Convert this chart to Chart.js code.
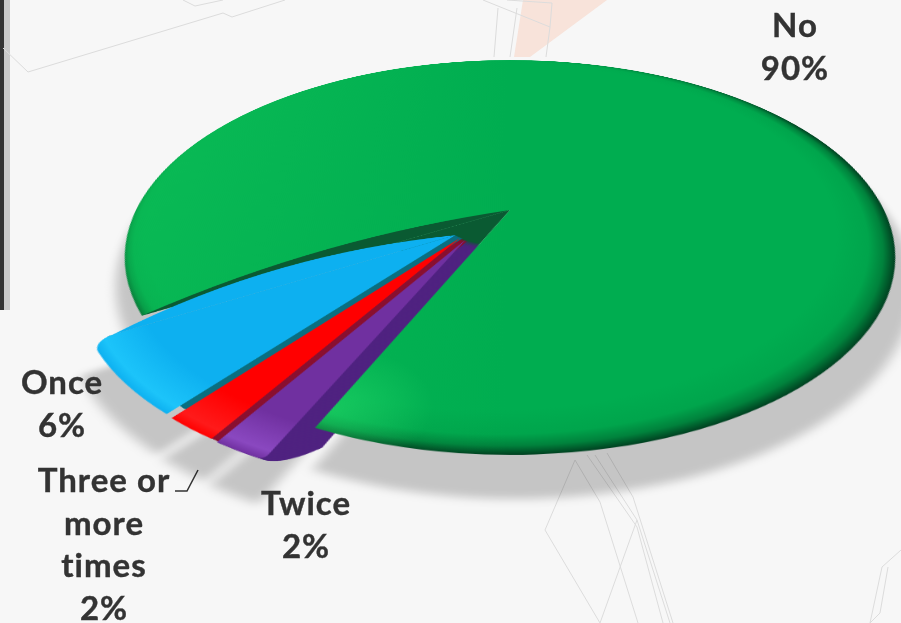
<!DOCTYPE html>
<html>
<head>
<meta charset="utf-8">
<script src="https://cdn.jsdelivr.net/npm/chart.js@4"></script>
<style>
html, body { margin: 0; padding: 0; width: 901px; height: 623px; overflow: hidden; background: #f7f7f7; }
#bg { position: absolute; left: 0; top: 0; }
#pie { position: absolute; left: 10px; top: -290px; width: 1000px; height: 1000px;
  transform-origin: 500px 500px;
  /* fake the tilted 3d pie with a perspective matrix on the canvas */
  transform: matrix3d(1,0,0,0, 0,0.4973,0,-0.000643, 0,0,1,0, 0,0,0,1); }
.lbl { position: absolute; transform: translateX(-50%); text-align: center; white-space: nowrap;
  font: bold 33px/42.7px Lato, sans-serif; letter-spacing: 1px; color: #333; -webkit-text-stroke: 0.4px #333; }
</style>
</head>
<body>
<svg id="bg" width="901" height="623">
  <polygon points="523,0 607,0 530,57 514,57" fill="#f8e3da"/>
  <rect x="0" y="0" width="4" height="310" fill="#333"/>
  <rect x="4" y="0" width="6" height="310" fill="#c9c9c9"/>
  <g fill="none" stroke="#dcdcdc" stroke-width="1">
    <polyline points="3,48 28,72 223,13 232,17 285,0"/>
    <polyline points="183,0 195,6 223,0"/>
    <polyline points="498,8 494,57"/>
    <polyline points="517,8 510,57"/>
    <polyline points="550,27 546,57"/>
    <polyline points="483,0 550,27"/>
    <polyline points="507,0 552,3 550,27"/>
    <polyline points="575,460 545,530 600,623 637,520"/>
    <polyline points="575,460 600,502 638,623"/>
    <polyline points="587,455 637,527 663,623"/>
    <polyline points="595,455 637,520 670,623"/>
    <polyline points="607,453 633,497 673,623"/>
    <polyline points="901,550 882,567 870,623"/>
    <polyline points="888,567 880,613 870,623"/>
  </g>
  <polyline points="175,491 187,491 198,470" fill="none" stroke="#333" stroke-width="1.5"/>
</svg>
<canvas id="pie" width="1000" height="1000"></canvas>
<div class="lbl" style="left:795px;top:3px">No<br>90%</div>
<div class="lbl" style="left:62px;top:360px">Once<br>6%</div>
<div class="lbl" style="left:104px;top:458px">Three or<br>more<br>times<br>2%</div>
<div class="lbl" style="left:306px;top:481px">Twice<br>2%</div>
<script>
const categories = ['No', 'Twice', 'Three or more times', 'Once'];
const shares = [90, 2, 2, 6];

const faceColors = ['#00ad50', '#7030a0', '#ff0000', '#0db0f0'];
const edgeColors = ['#00ad50', '#8a48c0', '#ff1a1a', '#1cc4fa'];
const wallColors = ['#0a5a32', '#4f2280', '#8a1030', '#0b6f80'];
const wallShift = [[0, 0], [30, 14], [7, 6], [7, 6]];
const wallTrim = [0, 0, 2, 14];
const wallCurve = [0, 30, 0, 0];
const slideX = [0, -43, -48, -53];
const slideY = [0, 58, 54, 49];
const corners = [0,
  { outerStart: 6, outerEnd: 0, innerStart: 0, innerEnd: 0 },
  { outerStart: 0, outerEnd: 0, innerStart: 0, innerEnd: 0 },
  { outerStart: 0, outerEnd: 18, innerStart: 0, innerEnd: 0 }];

const startDeg = 240;
const pieRadius = 374;
const sliceRadius = 352;

let greenPattern = null;

// big slice fill: dark rim on the near and right side only, lighter on the left
function greenFill(chart, cx, cy) {
  if (greenPattern) return greenPattern;
  var off = document.createElement('canvas');
  off.width = chart.width;
  off.height = chart.height;
  var c = off.getContext('2d');
  var g = c.createRadialGradient(cx - pieRadius * 0.05, cy - pieRadius * 0.06, pieRadius * 0.915, cx, cy, pieRadius);
  g.addColorStop(0, '#00ad50');
  g.addColorStop(0.55, '#00a54c');
  g.addColorStop(0.8, '#00823c');
  g.addColorStop(1, '#004020');
  c.fillStyle = g;
  c.fillRect(0, 0, off.width, off.height);
  var cover = c.createLinearGradient(cx - pieRadius * 0.25, cy - pieRadius * 0.85, cx + pieRadius * 0.2, cy - pieRadius * 0.1);
  cover.addColorStop(0, 'rgba(0,173,80,1)');
  cover.addColorStop(1, 'rgba(0,173,80,0)');
  c.fillStyle = cover;
  c.fillRect(0, 0, off.width, off.height);
  var a = (startDeg - 90 + shares[0] * 3.6) * Math.PI / 180;
  var gx = cx + Math.cos(a) * pieRadius * 0.93, gy = cy + Math.sin(a) * pieRadius * 0.93;
  var glow = c.createRadialGradient(gx, gy, 0, gx, gy, 80);
  glow.addColorStop(0, 'rgba(40,225,110,0.55)');
  glow.addColorStop(1, 'rgba(40,225,110,0)');
  c.fillStyle = glow;
  c.fillRect(0, 0, off.width, off.height);
  var left = c.createLinearGradient(cx - pieRadius, 0, cx, 0);
  left.addColorStop(0, 'rgba(20,200,90,0.45)');
  left.addColorStop(1, 'rgba(20,200,90,0)');
  c.fillStyle = left;
  c.fillRect(0, 0, cx, off.height);
  greenPattern = chart.ctx.createPattern(off, 'no-repeat');
  return greenPattern;
}

function faceFill(ctx) {
  var chart = ctx.chart, i = ctx.dataIndex;
  if (!chart.chartArea) return faceColors[i];
  var cx = (chart.chartArea.left + chart.chartArea.right) / 2;
  var cy = (chart.chartArea.top + chart.chartArea.bottom) / 2;
  if (i == 0) return greenFill(chart, cx, cy);
  var sx = cx + slideX[i], sy = cy + slideY[i];
  var g = chart.ctx.createRadialGradient(sx, sy, 0, sx, sy, sliceRadius);
  g.addColorStop(0, faceColors[i]);
  g.addColorStop(0.86, faceColors[i]);
  g.addColorStop(0.97, edgeColors[i]);
  g.addColorStop(1, faceColors[i]);
  return g;
}

function tracePie(ctx, el, trim) {
  var p = el.getProps(['x', 'y', 'startAngle', 'endAngle', 'outerRadius'], true);
  ctx.moveTo(p.x, p.y);
  ctx.arc(p.x, p.y, p.outerRadius - (trim || 0), p.startAngle, p.endAngle);
  ctx.closePath();
}

// edge of a slice bowed towards the gap, the real slices are not straight
function traceBow(ctx, x, y, angle, len, bow) {
  var ex = x + Math.cos(angle) * len, ey = y + Math.sin(angle) * len;
  var mx = (x + ex) / 2 - Math.sin(angle) * bow, my = (y + ey) / 2 + Math.cos(angle) * bow;
  ctx.moveTo(x, y);
  ctx.quadraticCurveTo(mx, my, ex, ey);
  ctx.closePath();
}

const depthPlugin = {
  id: 'depth',
  // the arc offset option also grows the radius, so move the small slices by hand
  afterDatasetsUpdate: function (chart) {
    chart.getDatasetMeta(0).data.forEach(function (el, i) {
      if (i == 0) return;
      el.x += slideX[i];
      el.y += slideY[i];
      el.outerRadius = sliceRadius;
    });
  },
  beforeDatasetsDraw: function (chart) {
    var ctx = chart.ctx, arcs = chart.getDatasetMeta(0).data;
    // soft shadow under everything
    ctx.save();
    ctx.filter = 'blur(5px)';
    ctx.fillStyle = 'rgba(0,0,0,0.2)';
    ctx.translate(4, 49);
    ctx.beginPath();
    arcs.forEach(function (el) { tracePie(ctx, el); });
    ctx.fill();
    ctx.restore();

    // dark floor of the gap near the centre
    var g = arcs[0].getProps(['x', 'y', 'startAngle', 'endAngle'], true);
    ctx.fillStyle = wallColors[0];
    ctx.beginPath();
    ctx.moveTo(g.x, g.y);
    ctx.arc(g.x, g.y, 130, g.endAngle, g.startAngle);
    ctx.closePath();
    ctx.fill();

    // walls of the pulled out slices
    for (var i = 1; i < arcs.length; i++) {
      for (var t = 40; t >= 1; t--) {
        ctx.save();
        ctx.translate(wallShift[i][0] * t / 40, wallShift[i][1] * t / 40);
        ctx.fillStyle = wallColors[i];
        ctx.beginPath();
        tracePie(ctx, arcs[i], wallTrim[i] + wallCurve[i] * (t / 40) * (t / 40));
        ctx.fill();
        ctx.restore();
      }
    }
  },
  afterDatasetsDraw: function (chart) {
    var ctx = chart.ctx, arcs = chart.getDatasetMeta(0).data;
    var g = arcs[0].getProps(['x', 'y', 'startAngle', 'outerRadius'], true);
    var c = arcs[3].getProps(['x', 'y', 'endAngle', 'outerRadius'], true);
    ctx.save();
    ctx.fillStyle = wallColors[0];
    ctx.beginPath();
    traceBow(ctx, g.x, g.y, g.startAngle, g.outerRadius, 44);
    ctx.fill();
    ctx.fillStyle = faceColors[3];
    ctx.beginPath();
    traceBow(ctx, c.x, c.y, c.endAngle, c.outerRadius - 18, 56);
    ctx.fill();
    ctx.restore();
  }
};

const pieChart = new Chart(document.getElementById('pie'), {
  type: 'pie',
  data: {
    labels: categories,
    datasets: [{
      data: shares,
      backgroundColor: faceFill,
      borderWidth: 0,
      borderRadius: function (ctx) { return corners[ctx.dataIndex]; },
      radius: pieRadius
    }]
  },
  options: {
    responsive: false,
    animation: false,
    rotation: startDeg,
    plugins: { legend: { display: false }, tooltip: { enabled: false } }
  },
  plugins: [depthPlugin]
});
</script>
</body>
</html>
